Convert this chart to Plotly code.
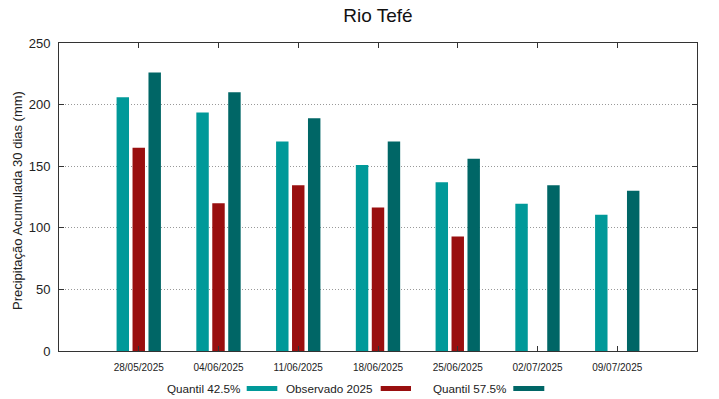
import plotly.graph_objects as go

dates = ["28/05/2025", "04/06/2025", "11/06/2025", "18/06/2025",
         "25/06/2025", "02/07/2025", "09/07/2025"]
q425 = [206, 193.5, 170, 151, 137, 119.5, 110.5]
obs2025 = [165, 120, 134.5, 116.5, 93, None, None]
q575 = [226, 210, 189, 170, 156, 134.5, 130]
series_names = ["Quantil 42.5%", "Observado 2025", "Quantil 57.5%"]
colors = ["#009999", "#990f0f", "#006666"]
y_ticks = [0, 50, 100, 150, 200, 250]
y_title = "Precipitação Acumulada 30 dias (mm)"

FONT = "Liberation Sans, Arial, sans-serif"
xs = list(range(len(dates)))

fig = go.Figure()
for name, vals, col in zip(series_names, [q425, obs2025, q575], colors):
    fig.add_trace(go.Bar(x=xs, y=vals, name=name, marker_color=col,
                         marker_line_width=0, showlegend=False))

# legend drawn as text followed by colour sample (gnuplot style)
L, R, T, B = 59, 697, 43, 351
def px(x):
    return (x - L) / (R - L)
def py(y):
    return (B - y) / (B - T)
leg_text_right = [242, 375, 508]
leg_sw = [(246.7, 277.3), (380.7, 411), (513.3, 544.3)]
leg_y = py(388.5)
annotations = []
shapes = []
for name, col, tr, (s0, s1) in zip(series_names, colors, leg_text_right, leg_sw):
    annotations.append(dict(text=name, x=px(tr), y=leg_y, xref="paper", yref="paper",
                            xanchor="right", yanchor="middle", showarrow=False,
                            font=dict(family=FONT, size=11.7, color="#222")))
    shapes.append(dict(type="rect", xref="paper", yref="paper", x0=px(s0), x1=px(s1),
                       ysizemode="pixel", yanchor=leg_y, y0=-2.5, y1=2.5,
                       fillcolor=col, line_width=0))
annotations.append(dict(text=y_title, x=px(17), y=py(201), xref="paper", yref="paper",
                        xanchor="center", yanchor="middle", textangle=-90,
                        showarrow=False, font=dict(family=FONT, size=13, color="#222")))

fig.update_layout(
    width=719, height=399,
    margin=dict(l=59, r=22, t=43, b=48),
    paper_bgcolor="white", plot_bgcolor="white",
    barmode="group", bargap=0.4, bargroupgap=0.22,
    title=dict(text="Rio Tefé", x=0.5, xref="paper", xanchor="center",
               y=1 - 15.5 / 399, yanchor="middle",
               font=dict(family=FONT, size=19, color="#111")),
    font=dict(family=FONT, color="#222"),
    annotations=annotations, shapes=shapes,
    xaxis=dict(range=[-1, len(dates)], tickvals=xs, ticktext=dates,
               showline=True, linecolor="#333", linewidth=1, mirror="allticks",
               ticks="inside", ticklen=5, tickcolor="#333", showgrid=False,
               zeroline=False, tickfont=dict(size=10, color="#222"),
               ticklabelstandoff=7),
    yaxis=dict(range=[0, 250], tickvals=y_ticks,
               showline=True, linecolor="#333", linewidth=1, mirror="allticks",
               ticks="inside", ticklen=5, tickcolor="#333",
               showgrid=True, gridcolor="#999", griddash="1px,2px", gridwidth=1,
               zeroline=False, tickfont=dict(size=13, color="#222"),
               ticklabelstandoff=5),
)

fig.write_html("out.html", config={"displayModeBar": False},
               post_script="document.body.style.margin='0';document.body.style.padding='0';")
